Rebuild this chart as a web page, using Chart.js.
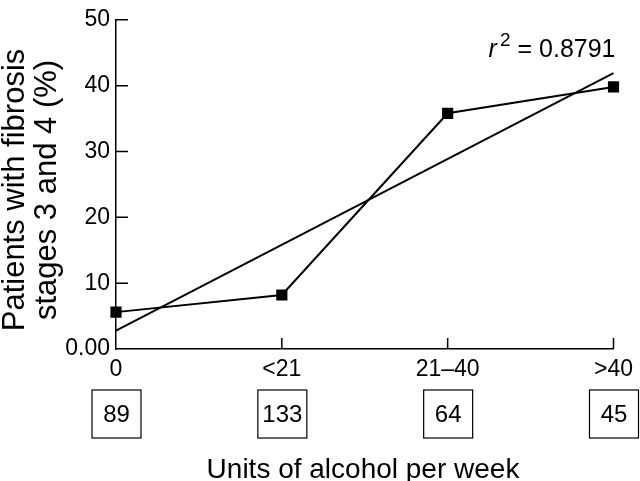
<!DOCTYPE html>
<html lang="en">
<head>
    <meta charset="UTF-8">
    <title>Fibrosis vs alcohol intake</title>
    <script src="https://cdn.jsdelivr.net/npm/chart.js"></script>
    <style>
        html, body { margin: 0; padding: 0; background: #fff; }
        #wrap { width: 640px; height: 481px; }
    </style>
</head>
<body>
<div id="wrap"><canvas id="fibChart"></canvas></div>

<script>
    const categories = ['0', '<21', '21\u201340', '>40'];
    const fibrosisPct = [5.6, 8.2, 35.8, 39.8];
    const trendLine = [2.8, null, null, 41.9];
    const patientCounts = [89, 133, 64, 45];
    const yTicks = [0, 10, 20, 30, 40, 50];
    const rSquared = '0.8791';

    const FONT = '"Liberation Sans", Arial, Helvetica, sans-serif';

    // tick marks point into the plot, plus the boxed counts, titles and r2 note
    const extras = {
        id: 'extras',
        afterDraw(chart) {
            const ctx = chart.ctx;
            const x = chart.scales.x;
            const y = chart.scales.y;
            const area = chart.chartArea;
            ctx.save();
            ctx.strokeStyle = '#000';
            ctx.lineWidth = 1.5;
            ctx.beginPath();
            yTicks.forEach(v => {
                if (v === 0) return;
                const py = y.getPixelForValue(v);
                ctx.moveTo(area.left, py);
                ctx.lineTo(area.left + 12, py);
            });
            categories.forEach((c, i) => {
                if (i === 0) return;
                const px = x.getPixelForValue(i);
                ctx.moveTo(px, area.bottom);
                ctx.lineTo(px, area.bottom - 11);
            });
            ctx.stroke();

            // patient count boxes
            ctx.lineWidth = 1.2;
            ctx.fillStyle = '#000';
            ctx.font = '24px ' + FONT;
            ctx.textAlign = 'center';
            ctx.textBaseline = 'middle';
            patientCounts.forEach((n, i) => {
                const px = x.getPixelForValue(i);
                ctx.strokeRect(px - 24, area.bottom + 41, 49, 48);
                ctx.fillText(String(n), px + 0.5, area.bottom + 66);
            });

            // x title
            ctx.font = '28px ' + FONT;
            ctx.textBaseline = 'alphabetic';
            ctx.fillText('Units of alcohol per week', 363, 478);

            // y title, two lines
            ctx.save();
            ctx.translate(0, 190);
            ctx.rotate(-Math.PI / 2);
            ctx.font = '31px ' + FONT;
            ctx.fillText('Patients with fibrosis', 0, 24);
            ctx.fillText('stages 3 and 4 (%)', 0, 56);
            ctx.restore();

            // r squared note
            const base = 57;
            ctx.textAlign = 'right';
            ctx.font = '25px ' + FONT;
            const rest = '= ' + rSquared;
            const endX = area.right + 2;
            ctx.fillText(rest, endX, base);
            let cx = endX - ctx.measureText(rest).width - 7;
            ctx.font = '19px ' + FONT;
            ctx.fillText('2', cx, base - 11);
            cx -= ctx.measureText('2').width + 3;
            ctx.font = 'italic 25px ' + FONT;
            ctx.fillText('r', cx, base);
            ctx.restore();
        }
    };

    new Chart(document.getElementById('fibChart'), {
        type: 'line',
        data: {
            labels: categories,
            datasets: [{
                label: 'Fibrosis stages 3 and 4',
                data: fibrosisPct,
                borderColor: '#000',
                backgroundColor: '#000',
                borderWidth: 2,
                pointStyle: 'rect',
                pointRadius: 6.5,
                pointHoverRadius: 6.5,
                tension: 0,
                clip: false
            }, {
                label: 'Linear fit',
                data: trendLine,
                borderColor: '#000',
                borderWidth: 2,
                pointRadius: 0,
                spanGaps: true,
                tension: 0,
                clip: false
            }]
        },
        options: {
            responsive: true,
            maintainAspectRatio: false,
            animation: false,
            events: [],
            layout: { padding: { top: 9, right: 25, left: 0, bottom: 0 } },
            plugins: {
                legend: { display: false },
                tooltip: { enabled: false }
            },
            scales: {
                x: {
                    type: 'category',
                    offset: false,
                    grid: { display: false, drawTicks: false },
                    border: { display: true, color: '#000', width: 1.5 },
                    ticks: {
                        color: '#000',
                        font: { family: FONT, size: 23 },
                        padding: 7,
                        maxRotation: 0,
                        autoSkip: false
                    },
                    afterFit(scale) { scale.height = 132; }
                },
                y: {
                    min: 0,
                    max: 50,
                    grid: { display: false, drawTicks: false },
                    border: { display: true, color: '#000', width: 1.5 },
                    ticks: {
                        stepSize: 10,
                        color: '#000',
                        font: { family: FONT, size: 23 },
                        padding: 6,
                        callback: v => (v === 0 ? '0.00' : v)
                    },
                    afterFit(scale) { scale.width = 116; }
                }
            }
        },
        plugins: [extras]
    });
</script>
</body>
</html>
